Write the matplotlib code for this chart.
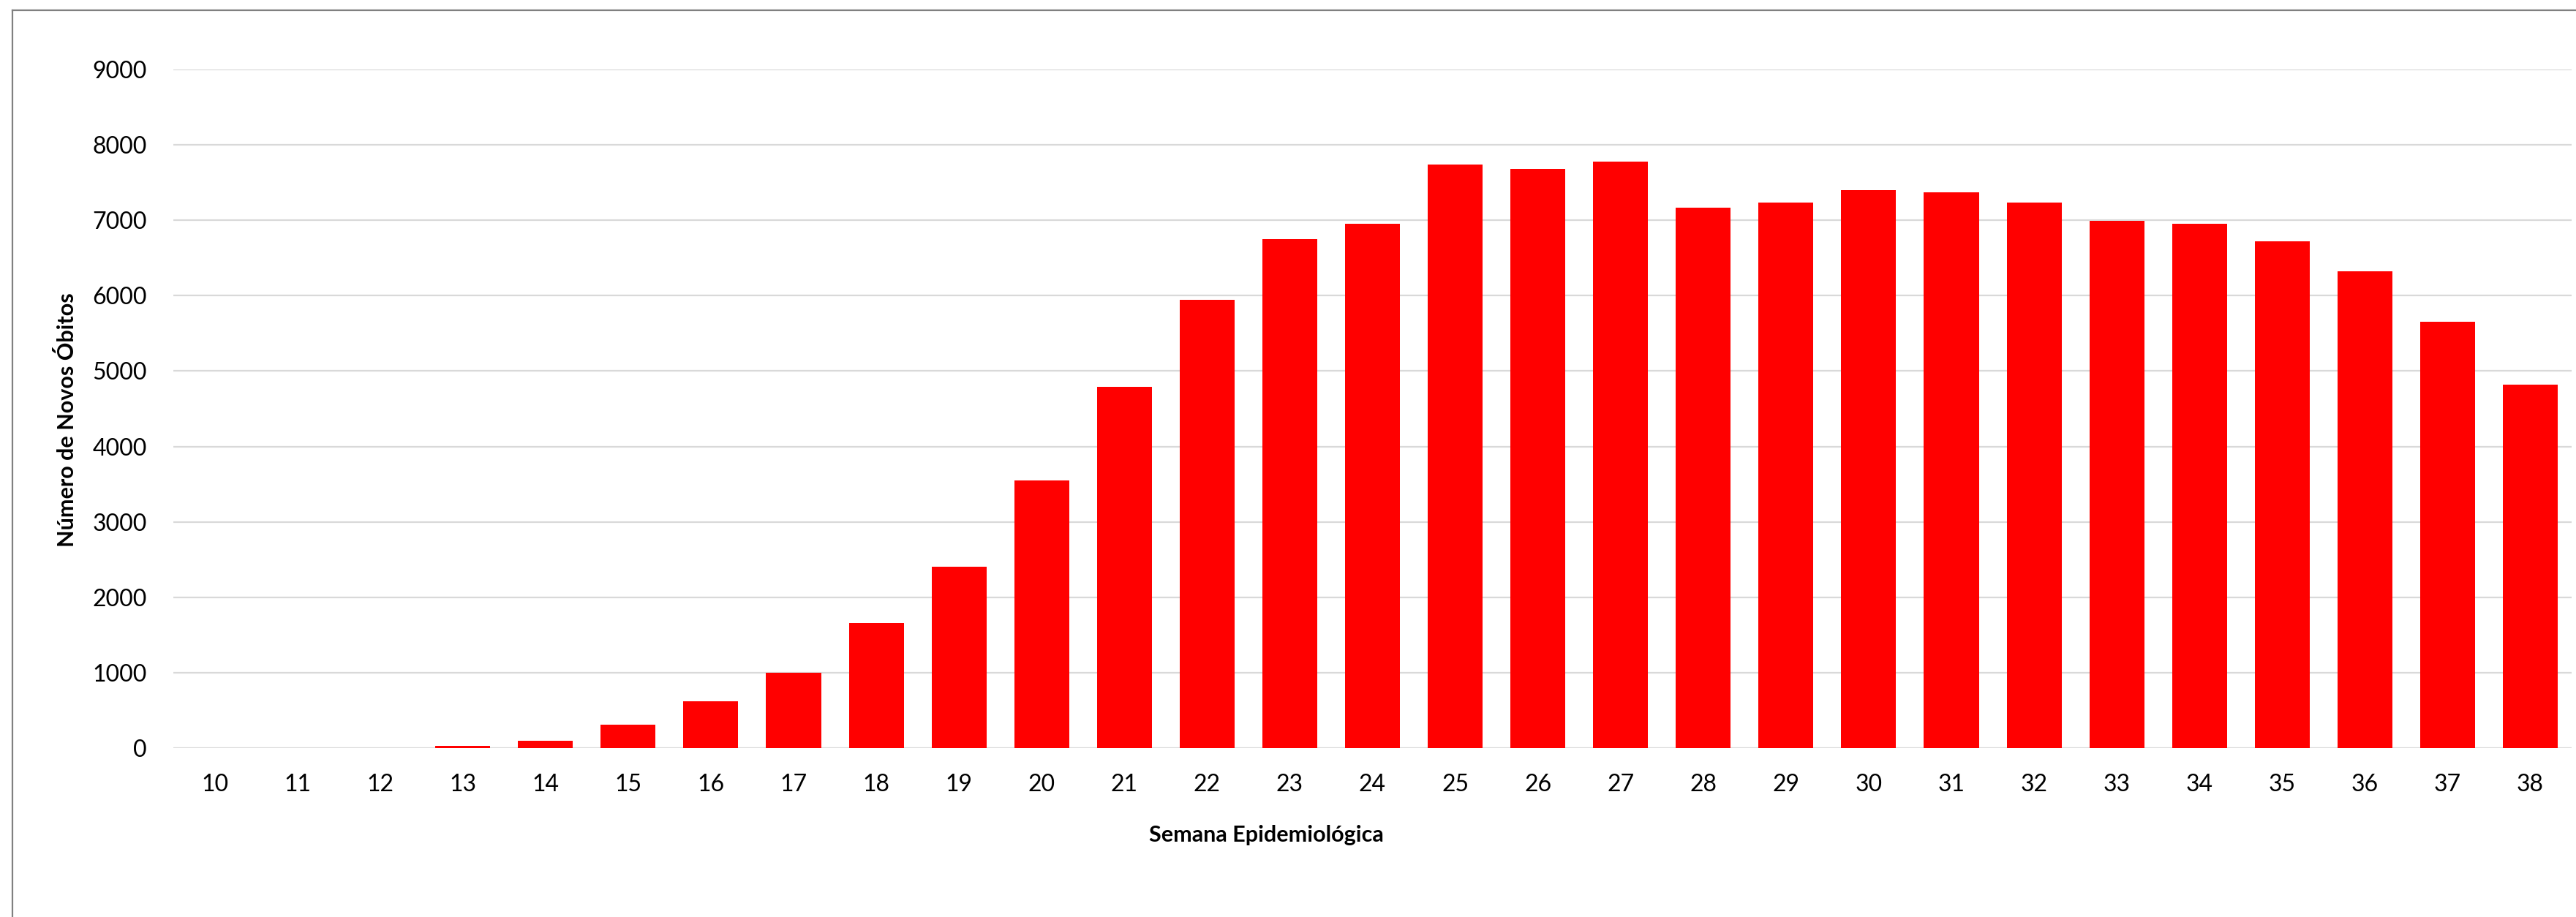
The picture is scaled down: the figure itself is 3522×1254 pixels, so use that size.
import numpy as np
import matplotlib.pyplot as plt
from matplotlib.lines import Line2D

# dados: novos óbitos por semana epidemiológica
semanas = [str(s) for s in range(10, 39)]
obitos = [0, 0, 2, 30, 98, 312, 616, 1002, 1654, 2404, 3553, 4792, 5942, 6751,
          6958, 7737, 7685, 7782, 7166, 7233, 7396, 7366, 7233, 6988, 6958,
          6721, 6320, 5653, 4822]
yticks = list(range(0, 10000, 1000))

plt.rcParams['font.family'] = ['Lato', 'DejaVu Sans']

W, H = 3523, 1254
fig = plt.figure(figsize=(W / 100, H / 100), dpi=100)
ax = fig.add_axes([237 / W, 1 - 1023 / H, (3516 - 237) / W, (1023 - 95) / H])

x = np.arange(len(semanas))
ax.bar(x, obitos, width=0.664, color='#ff0000', zorder=3)

ax.set_xlim(-0.5, len(semanas) - 0.5)
ax.set_ylim(0, 9000)
ax.set_yticks(yticks)
ax.set_xticks(x)
ax.set_xticklabels(semanas)
ax.yaxis.grid(True, color='#d9d9d9', linewidth=1.6, zorder=0)
ax.tick_params(axis='both', length=0, labelsize=23, colors='black')
ax.tick_params(axis='y', pad=26)
ax.tick_params(axis='x', pad=25)
for s in ax.spines.values():
    s.set_visible(False)

fig.text(92 / W, 1 - 574 / H, 'Número de Novos Óbitos', rotation=90,
         ha='center', va='center', fontsize=22, fontweight='bold')
fig.text(1731 / W, 1 - 1142 / H, 'Semana Epidemiológica',
         ha='center', va='center', fontsize=22, fontweight='bold')

# moldura do gráfico (só topo e esquerda visíveis)
fig.add_artist(Line2D([17 / W, 17 / W], [0, 1 - 14 / H], transform=fig.transFigure,
                      color='#808080', linewidth=1.6))
fig.add_artist(Line2D([17 / W, 1], [1 - 14 / H, 1 - 14 / H], transform=fig.transFigure,
                      color='#808080', linewidth=1.6))

fig.savefig('out.png', dpi=100, facecolor='white')
